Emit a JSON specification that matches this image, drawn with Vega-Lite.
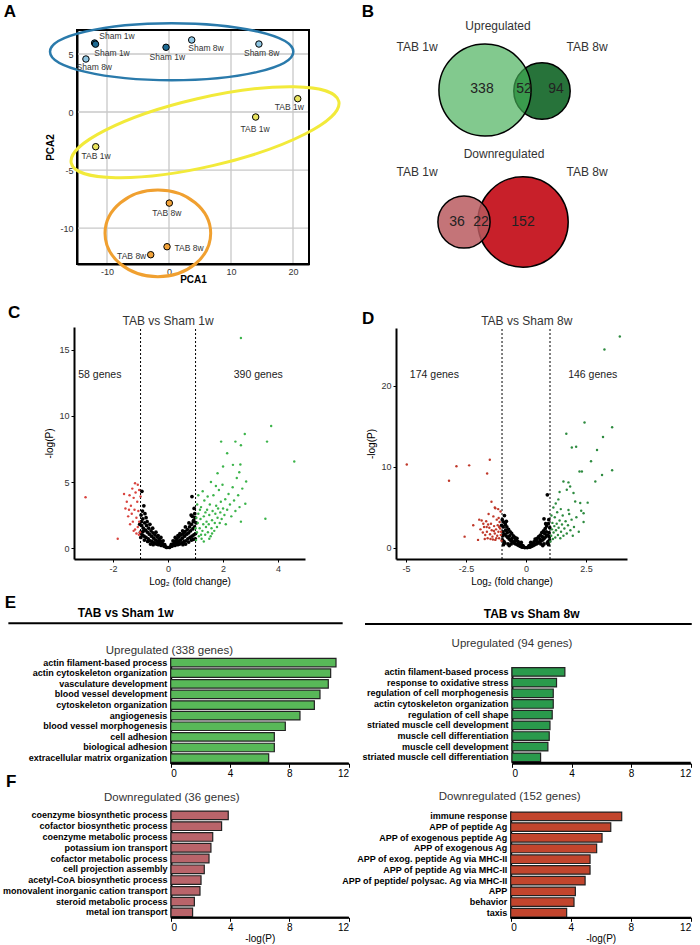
{
"$schema":"https://vega.github.io/schema/vega-lite/v6.json",
"width":700,"height":945,"autosize":{"type":"none"},"padding":0,"background":"white",
"config":{"view":{"stroke":null},"font":"Liberation Sans",
 "axis":{"labelFont":"Liberation Sans","titleFont":"Liberation Sans","grid":false,"domainColor":"black","tickColor":"black","labelColor":"#333","labelFontSize":9,"titleFontSize":10,"titleColor":"black","titleFontWeight":"normal","tickSize":3,"domainWidth":1.5}},
"datasets":{
"pca":[
{"g":"Sham 1w","x":-12.0,"y":5.95,"lx":-8.39,"ly":6.55},
{"g":"Sham 1w","x":-11.85,"y":5.85,"lx":-9.19,"ly":5.06},
{"g":"Sham 8w","x":-13.4,"y":4.57,"lx":-12.05,"ly":3.91},
{"g":"Sham 1w","x":-0.48,"y":5.58,"lx":-0.27,"ly":4.74},
{"g":"Sham 8w","x":3.66,"y":6.21,"lx":5.97,"ly":5.54},
{"g":"Sham 8w","x":14.5,"y":5.86,"lx":14.95,"ly":5.11},
{"g":"TAB 1w","x":20.76,"y":1.15,"lx":19.41,"ly":0.41},
{"g":"TAB 1w","x":13.98,"y":-0.43,"lx":13.87,"ly":-1.47},
{"g":"TAB 1w","x":-11.82,"y":-2.99,"lx":-11.77,"ly":-3.79},
{"g":"TAB 8w","x":0.05,"y":-7.85,"lx":-0.37,"ly":-8.73},
{"g":"TAB 8w","x":-0.32,"y":-11.61,"lx":3.23,"ly":-11.75},
{"g":"TAB 8w","x":-2.95,"y":-12.3,"lx":-6.02,"ly":-12.39}],
"ell":[{"e":"b","x":0.43,"y":5.2},{"e":"y","x":5.81,"y":-1.74},{"e":"o","x":-1.8,"y":-10.46},{"e":"f","x":3.87,"y":-3.015}],
"volC":[
{"x":-0.05,"y":0.05,"g":"n"},{"x":-0.1,"y":0.1,"g":"n"},{"x":-0.12,"y":0.25,"g":"n"},{"x":-0.15,"y":0.15,"g":"n"},{"x":-0.2,"y":0.3,"g":"n"},{"x":-0.22,"y":0.45,"g":"n"},{"x":-0.25,"y":0.2,"g":"n"},{"x":-0.28,"y":0.55,"g":"n"},{"x":-0.3,"y":0.35,"g":"n"},{"x":-0.33,"y":0.7,"g":"n"},
{"x":-0.35,"y":0.25,"g":"n"},{"x":-0.38,"y":0.5,"g":"n"},{"x":-0.4,"y":0.85,"g":"n"},{"x":-0.42,"y":0.3,"g":"n"},{"x":-0.45,"y":0.6,"g":"n"},{"x":-0.48,"y":1.0,"g":"n"},{"x":-0.5,"y":0.4,"g":"n"},{"x":-0.52,"y":0.75,"g":"n"},{"x":-0.55,"y":1.15,"g":"n"},{"x":-0.58,"y":0.5,"g":"n"},
{"x":-0.6,"y":0.9,"g":"n"},{"x":-0.62,"y":1.3,"g":"n"},{"x":-0.65,"y":0.55,"g":"n"},{"x":-0.68,"y":1.05,"g":"n"},{"x":-0.7,"y":1.5,"g":"n"},{"x":-0.72,"y":0.7,"g":"n"},{"x":-0.75,"y":1.2,"g":"n"},{"x":-0.78,"y":1.7,"g":"n"},{"x":-0.8,"y":0.8,"g":"n"},{"x":-0.82,"y":1.35,"g":"n"},
{"x":-0.85,"y":1.9,"g":"n"},{"x":-0.87,"y":0.9,"g":"n"},{"x":-0.9,"y":1.5,"g":"n"},{"x":-0.92,"y":2.2,"g":"n"},{"x":-0.94,"y":1.0,"g":"n"},{"x":-0.96,"y":1.7,"g":"n"},{"x":-0.98,"y":2.5,"g":"n"},{"x":-1.0,"y":1.2,"g":"n"},{"x":-0.97,"y":2.0,"g":"n"},{"x":-0.93,"y":2.8,"g":"n"},
{"x":-0.88,"y":3.2,"g":"n"},{"x":-0.95,"y":4.3,"g":"n"},{"x":-0.86,"y":0.6,"g":"n"},{"x":-0.74,"y":0.5,"g":"n"},{"x":-0.99,"y":0.8,"g":"n"},{"x":-0.91,"y":1.25,"g":"n"},{"x":-0.8,"y":2.3,"g":"n"},{"x":-0.66,"y":1.8,"g":"n"},{"x":-0.56,"y":1.5,"g":"n"},{"x":-0.44,"y":1.2,"g":"n"},
{"x":-0.18,"y":0.55,"g":"n"},{"x":-0.36,"y":0.95,"g":"n"},{"x":-0.64,"y":0.3,"g":"n"},{"x":-0.84,"y":2.6,"g":"n"},{"x":-1.03,"y":1.8,"g":"n"},{"x":-0.76,"y":2.0,"g":"n"},{"x":-0.54,"y":0.25,"g":"n"},{"x":-0.26,"y":0.8,"g":"n"},
{"x":0.05,"y":0.05,"g":"n"},{"x":0.1,"y":0.12,"g":"n"},{"x":0.12,"y":0.28,"g":"n"},{"x":0.15,"y":0.15,"g":"n"},{"x":0.2,"y":0.3,"g":"n"},{"x":0.22,"y":0.5,"g":"n"},{"x":0.25,"y":0.2,"g":"n"},{"x":0.28,"y":0.55,"g":"n"},{"x":0.3,"y":0.35,"g":"n"},{"x":0.33,"y":0.7,"g":"n"},
{"x":0.35,"y":0.25,"g":"n"},{"x":0.38,"y":0.5,"g":"n"},{"x":0.4,"y":0.85,"g":"n"},{"x":0.42,"y":0.3,"g":"n"},{"x":0.45,"y":0.6,"g":"n"},{"x":0.48,"y":1.0,"g":"n"},{"x":0.5,"y":0.4,"g":"n"},{"x":0.52,"y":0.75,"g":"n"},{"x":0.55,"y":1.1,"g":"n"},{"x":0.58,"y":0.5,"g":"n"},
{"x":0.6,"y":0.9,"g":"n"},{"x":0.62,"y":1.25,"g":"n"},{"x":0.65,"y":0.55,"g":"n"},{"x":0.68,"y":1.05,"g":"n"},{"x":0.7,"y":1.4,"g":"n"},{"x":0.72,"y":0.7,"g":"n"},{"x":0.75,"y":1.15,"g":"n"},{"x":0.78,"y":1.6,"g":"n"},{"x":0.8,"y":0.8,"g":"n"},{"x":0.82,"y":1.3,"g":"n"},
{"x":0.85,"y":1.8,"g":"n"},{"x":0.87,"y":0.9,"g":"n"},{"x":0.9,"y":1.45,"g":"n"},{"x":0.92,"y":2.0,"g":"n"},{"x":0.94,"y":1.0,"g":"n"},{"x":0.96,"y":1.6,"g":"n"},{"x":0.98,"y":2.3,"g":"n"},{"x":1.0,"y":1.1,"g":"n"},{"x":0.97,"y":2.6,"g":"n"},{"x":0.93,"y":2.1,"g":"n"},
{"x":0.88,"y":2.4,"g":"n"},{"x":0.87,"y":3.9,"g":"n"},{"x":0.95,"y":3.0,"g":"n"},{"x":0.85,"y":0.6,"g":"n"},{"x":0.75,"y":0.45,"g":"n"},{"x":0.99,"y":0.7,"g":"n"},{"x":0.63,"y":1.6,"g":"n"},{"x":0.53,"y":1.3,"g":"n"},{"x":0.43,"y":1.1,"g":"n"},{"x":0.91,"y":0.65,"g":"n"},
{"x":0.18,"y":0.55,"g":"n"},{"x":0.36,"y":0.95,"g":"n"},{"x":0.64,"y":0.3,"g":"n"},{"x":0.84,"y":2.5,"g":"n"},{"x":1.02,"y":1.9,"g":"n"},{"x":0.76,"y":1.9,"g":"n"},{"x":0.54,"y":0.25,"g":"n"},{"x":0.26,"y":0.8,"g":"n"},
{"x":-1.02,"y":1.2,"g":"d"},{"x":-1.05,"y":2.0,"g":"d"},{"x":-1.08,"y":2.8,"g":"d"},{"x":-1.1,"y":1.6,"g":"d"},{"x":-1.12,"y":3.5,"g":"d"},{"x":-1.15,"y":2.3,"g":"d"},{"x":-1.18,"y":4.2,"g":"d"},{"x":-1.2,"y":1.4,"g":"d"},{"x":-1.22,"y":2.9,"g":"d"},{"x":-1.25,"y":3.8,"g":"d"},
{"x":-1.28,"y":2.0,"g":"d"},{"x":-1.3,"y":4.5,"g":"d"},{"x":-1.32,"y":2.6,"g":"d"},{"x":-1.35,"y":3.2,"g":"d"},{"x":-1.38,"y":1.8,"g":"d"},{"x":-1.4,"y":4.0,"g":"d"},{"x":-1.45,"y":2.4,"g":"d"},{"x":-1.5,"y":3.5,"g":"d"},{"x":-1.55,"y":3.0,"g":"d"},{"x":-1.6,"y":4.1,"g":"d"},
{"x":-1.1,"y":4.8,"g":"d"},{"x":-1.05,"y":4.4,"g":"d"},{"x":-1.2,"y":4.9,"g":"d"},{"x":-1.42,"y":2.9,"g":"d"},{"x":-1.06,"y":1.0,"g":"d"},{"x":-1.15,"y":1.1,"g":"d"},{"x":-3.0,"y":3.85,"g":"d"},{"x":-1.83,"y":0.7,"g":"d"},{"x":-1.0,"y":3.9,"g":"d"},{"x":-1.25,"y":1.3,"g":"d"},
{"x":1.02,"y":0.6,"g":"u"},{"x":1.05,"y":1.2,"g":"u"},{"x":1.08,"y":1.9,"g":"u"},{"x":1.1,"y":2.6,"g":"u"},{"x":1.12,"y":0.9,"g":"u"},{"x":1.15,"y":1.5,"g":"u"},{"x":1.18,"y":2.2,"g":"u"},{"x":1.2,"y":3.1,"g":"u"},{"x":1.22,"y":0.7,"g":"u"},{"x":1.25,"y":1.3,"g":"u"},
{"x":1.28,"y":1.8,"g":"u"},{"x":1.3,"y":2.4,"g":"u"},{"x":1.32,"y":3.6,"g":"u"},{"x":1.35,"y":1.0,"g":"u"},{"x":1.38,"y":1.6,"g":"u"},{"x":1.4,"y":2.0,"g":"u"},{"x":1.42,"y":2.9,"g":"u"},{"x":1.45,"y":1.2,"g":"u"},{"x":1.48,"y":1.8,"g":"u"},{"x":1.5,"y":2.5,"g":"u"},
{"x":1.52,"y":3.3,"g":"u"},{"x":1.55,"y":0.9,"g":"u"},{"x":1.58,"y":1.5,"g":"u"},{"x":1.6,"y":2.1,"g":"u"},{"x":1.62,"y":2.8,"g":"u"},{"x":1.65,"y":4.0,"g":"u"},{"x":1.68,"y":1.3,"g":"u"},{"x":1.7,"y":1.9,"g":"u"},{"x":1.72,"y":2.6,"g":"u"},{"x":1.75,"y":3.2,"g":"u"},
{"x":1.78,"y":1.6,"g":"u"},{"x":1.8,"y":2.3,"g":"u"},{"x":1.82,"y":3.0,"g":"u"},{"x":1.85,"y":4.4,"g":"u"},{"x":1.88,"y":1.9,"g":"u"},{"x":1.9,"y":2.7,"g":"u"},{"x":1.92,"y":3.5,"g":"u"},{"x":1.95,"y":2.2,"g":"u"},{"x":1.98,"y":4.8,"g":"u"},{"x":2.0,"y":3.0,"g":"u"},
{"x":2.05,"y":2.5,"g":"u"},{"x":2.08,"y":3.7,"g":"u"},{"x":2.1,"y":1.8,"g":"u"},{"x":2.15,"y":2.9,"g":"u"},{"x":2.2,"y":4.1,"g":"u"},{"x":2.25,"y":3.3,"g":"u"},{"x":2.3,"y":2.4,"g":"u"},{"x":2.35,"y":4.6,"g":"u"},{"x":2.4,"y":3.6,"g":"u"},{"x":2.45,"y":2.8,"g":"u"},
{"x":2.5,"y":5.3,"g":"u"},{"x":2.55,"y":4.0,"g":"u"},{"x":2.6,"y":3.1,"g":"u"},{"x":2.7,"y":4.5,"g":"u"},{"x":1.1,"y":4.0,"g":"u"},{"x":1.06,"y":3.3,"g":"u"},{"x":1.3,"y":0.5,"g":"u"},{"x":1.5,"y":0.7,"g":"u"},{"x":1.16,"y":2.9,"g":"u"},{"x":1.36,"y":2.7,"g":"u"},
{"x":1.44,"y":3.9,"g":"u"},{"x":1.26,"y":4.3,"g":"u"},{"x":1.0,"y":1.5,"g":"u"},{"x":1.03,"y":2.3,"g":"u"},{"x":1.2,"y":1.0,"g":"u"},{"x":1.6,"y":1.1,"g":"u"},{"x":1.74,"y":4.7,"g":"u"},{"x":1.56,"y":5.0,"g":"u"},{"x":2.65,"y":2.0,"g":"u"},
{"x":2.65,"y":15.9,"g":"u"},{"x":3.75,"y":9.24,"g":"u"},{"x":3.6,"y":8.06,"g":"u"},{"x":2.79,"y":8.64,"g":"u"},{"x":2.45,"y":8.06,"g":"u"},{"x":2.65,"y":7.78,"g":"u"},{"x":1.93,"y":8.06,"g":"u"},{"x":2.15,"y":7.18,"g":"u"},{"x":4.59,"y":6.55,"g":"u"},{"x":3.54,"y":2.22,"g":"u"},
{"x":2.81,"y":3.35,"g":"u"},{"x":2.63,"y":6.32,"g":"u"},{"x":2.36,"y":6.3,"g":"u"},{"x":2.59,"y":5.74,"g":"u"},{"x":2.84,"y":5.04,"g":"u"},{"x":2.0,"y":6.17,"g":"u"},{"x":1.8,"y":5.67,"g":"u"}],
"volD":[
{"x":-0.05,"y":0.05,"g":"n"},{"x":-0.1,"y":0.15,"g":"n"},{"x":-0.13,"y":0.3,"g":"n"},{"x":-0.16,"y":0.1,"g":"n"},{"x":-0.2,"y":0.4,"g":"n"},{"x":-0.23,"y":0.2,"g":"n"},{"x":-0.26,"y":0.6,"g":"n"},{"x":-0.3,"y":0.3,"g":"n"},{"x":-0.33,"y":0.8,"g":"n"},{"x":-0.36,"y":0.4,"g":"n"},
{"x":-0.4,"y":1.0,"g":"n"},{"x":-0.43,"y":0.5,"g":"n"},{"x":-0.46,"y":1.3,"g":"n"},{"x":-0.5,"y":0.6,"g":"n"},{"x":-0.53,"y":1.5,"g":"n"},{"x":-0.56,"y":0.8,"g":"n"},{"x":-0.6,"y":1.8,"g":"n"},{"x":-0.63,"y":0.9,"g":"n"},{"x":-0.66,"y":2.0,"g":"n"},{"x":-0.7,"y":1.1,"g":"n"},
{"x":-0.73,"y":2.3,"g":"n"},{"x":-0.76,"y":1.3,"g":"n"},{"x":-0.8,"y":2.6,"g":"n"},{"x":-0.83,"y":1.5,"g":"n"},{"x":-0.86,"y":2.9,"g":"n"},{"x":-0.9,"y":1.7,"g":"n"},{"x":-0.93,"y":3.2,"g":"n"},{"x":-0.96,"y":2.0,"g":"n"},{"x":-0.99,"y":3.5,"g":"n"},{"x":-0.98,"y":1.0,"g":"n"},
{"x":-0.88,"y":0.6,"g":"n"},{"x":-0.75,"y":0.5,"g":"n"},{"x":-0.95,"y":2.6,"g":"n"},{"x":-0.68,"y":1.5,"g":"n"},{"x":-0.58,"y":1.2,"g":"n"},{"x":-0.85,"y":2.2,"g":"n"},{"x":-0.92,"y":0.8,"g":"n"},{"x":-0.78,"y":1.9,"g":"n"},{"x":-0.45,"y":0.9,"g":"n"},{"x":-0.62,"y":0.5,"g":"n"},
{"x":-0.97,"y":1.5,"g":"n"},{"x":-0.82,"y":3.3,"g":"n"},{"x":-0.9,"y":4.0,"g":"n"},{"x":-0.2,"y":0.7,"g":"n"},{"x":-0.38,"y":1.2,"g":"n"},{"x":-0.7,"y":0.3,"g":"n"},{"x":-1.02,"y":2.8,"g":"n"},{"x":-0.94,"y":0.4,"g":"n"},
{"x":0.05,"y":0.05,"g":"n"},{"x":0.1,"y":0.15,"g":"n"},{"x":0.13,"y":0.3,"g":"n"},{"x":0.16,"y":0.1,"g":"n"},{"x":0.2,"y":0.4,"g":"n"},{"x":0.23,"y":0.2,"g":"n"},{"x":0.26,"y":0.55,"g":"n"},{"x":0.3,"y":0.3,"g":"n"},{"x":0.33,"y":0.75,"g":"n"},{"x":0.36,"y":0.4,"g":"n"},
{"x":0.4,"y":0.95,"g":"n"},{"x":0.43,"y":0.5,"g":"n"},{"x":0.46,"y":1.2,"g":"n"},{"x":0.5,"y":0.6,"g":"n"},{"x":0.53,"y":1.4,"g":"n"},{"x":0.56,"y":0.75,"g":"n"},{"x":0.6,"y":1.6,"g":"n"},{"x":0.63,"y":0.9,"g":"n"},{"x":0.66,"y":1.9,"g":"n"},{"x":0.7,"y":1.0,"g":"n"},
{"x":0.73,"y":2.1,"g":"n"},{"x":0.76,"y":1.2,"g":"n"},{"x":0.8,"y":2.4,"g":"n"},{"x":0.83,"y":1.4,"g":"n"},{"x":0.86,"y":2.7,"g":"n"},{"x":0.9,"y":1.6,"g":"n"},{"x":0.93,"y":3.0,"g":"n"},{"x":0.96,"y":1.9,"g":"n"},{"x":0.99,"y":2.5,"g":"n"},{"x":0.98,"y":1.0,"g":"n"},
{"x":0.88,"y":0.6,"g":"n"},{"x":0.75,"y":0.5,"g":"n"},{"x":0.95,"y":3.5,"g":"n"},{"x":0.68,"y":1.4,"g":"n"},{"x":0.58,"y":1.1,"g":"n"},{"x":0.85,"y":2.0,"g":"n"},{"x":0.92,"y":0.8,"g":"n"},{"x":0.78,"y":1.8,"g":"n"},{"x":0.45,"y":0.85,"g":"n"},{"x":0.62,"y":0.5,"g":"n"},
{"x":0.97,"y":1.4,"g":"n"},{"x":0.75,"y":3.6,"g":"n"},{"x":0.89,"y":6.57,"g":"n"},{"x":0.82,"y":3.0,"g":"n"},{"x":0.2,"y":0.7,"g":"n"},{"x":0.38,"y":1.1,"g":"n"},{"x":0.7,"y":0.3,"g":"n"},{"x":0.94,"y":0.4,"g":"n"},
{"x":-1.02,"y":0.9,"g":"d"},{"x":-1.05,"y":1.6,"g":"d"},{"x":-1.08,"y":2.4,"g":"d"},{"x":-1.1,"y":3.2,"g":"d"},{"x":-1.12,"y":1.2,"g":"d"},{"x":-1.15,"y":2.0,"g":"d"},{"x":-1.18,"y":2.8,"g":"d"},{"x":-1.2,"y":1.5,"g":"d"},{"x":-1.22,"y":3.5,"g":"d"},{"x":-1.25,"y":2.3,"g":"d"},
{"x":-1.28,"y":1.0,"g":"d"},{"x":-1.3,"y":1.8,"g":"d"},{"x":-1.33,"y":2.7,"g":"d"},{"x":-1.36,"y":3.9,"g":"d"},{"x":-1.4,"y":1.4,"g":"d"},{"x":-1.43,"y":2.2,"g":"d"},{"x":-1.46,"y":3.0,"g":"d"},{"x":-1.5,"y":1.7,"g":"d"},{"x":-1.53,"y":2.5,"g":"d"},{"x":-1.56,"y":4.2,"g":"d"},
{"x":-1.6,"y":1.2,"g":"d"},{"x":-1.63,"y":2.0,"g":"d"},{"x":-1.66,"y":3.3,"g":"d"},{"x":-1.7,"y":1.6,"g":"d"},{"x":-1.75,"y":2.6,"g":"d"},{"x":-1.8,"y":1.9,"g":"d"},{"x":-1.85,"y":3.4,"g":"d"},{"x":-1.9,"y":2.3,"g":"d"},{"x":-1.95,"y":3.5,"g":"d"},{"x":-2.0,"y":1.0,"g":"d"},
{"x":-1.06,"y":4.5,"g":"d"},{"x":-1.16,"y":4.8,"g":"d"},{"x":-1.3,"y":5.0,"g":"d"},{"x":-1.44,"y":5.7,"g":"d"},{"x":-1.28,"y":4.9,"g":"d"},{"x":-2.56,"y":1.4,"g":"d"},{"x":-2.2,"y":2.8,"g":"d"},{"x":-1.38,"y":1.05,"g":"d"},{"x":-1.12,"y":2.6,"g":"d"},{"x":-1.48,"y":1.1,"g":"d"},
{"x":-1.72,"y":1.1,"g":"d"},{"x":-1.58,"y":2.9,"g":"d"},{"x":-1.04,"y":2.0,"g":"d"},{"x":-1.14,"y":3.7,"g":"d"},{"x":-1.24,"y":1.2,"g":"d"},{"x":-1.34,"y":2.1,"g":"d"},{"x":-1.64,"y":2.6,"g":"d"},{"x":-1.78,"y":3.0,"g":"d"},
{"x":-4.97,"y":10.3,"g":"d"},{"x":-2.9,"y":10.1,"g":"d"},{"x":-2.37,"y":10.2,"g":"d"},{"x":-3.21,"y":8.3,"g":"d"},{"x":-1.51,"y":10.9,"g":"d"},{"x":-1.62,"y":9.2,"g":"d"},
{"x":1.02,"y":0.8,"g":"u"},{"x":1.05,"y":1.5,"g":"u"},{"x":1.08,"y":2.3,"g":"u"},{"x":1.1,"y":3.1,"g":"u"},{"x":1.12,"y":1.1,"g":"u"},{"x":1.15,"y":1.9,"g":"u"},{"x":1.18,"y":2.7,"g":"u"},{"x":1.2,"y":3.8,"g":"u"},{"x":1.22,"y":1.3,"g":"u"},{"x":1.25,"y":2.2,"g":"u"},
{"x":1.28,"y":3.0,"g":"u"},{"x":1.3,"y":4.4,"g":"u"},{"x":1.33,"y":1.6,"g":"u"},{"x":1.36,"y":2.5,"g":"u"},{"x":1.4,"y":3.4,"g":"u"},{"x":1.43,"y":1.2,"g":"u"},{"x":1.46,"y":2.0,"g":"u"},{"x":1.5,"y":2.9,"g":"u"},{"x":1.53,"y":4.0,"g":"u"},{"x":1.56,"y":1.5,"g":"u"},
{"x":1.6,"y":2.4,"g":"u"},{"x":1.65,"y":3.3,"g":"u"},{"x":1.7,"y":1.8,"g":"u"},{"x":1.75,"y":2.8,"g":"u"},{"x":1.8,"y":4.2,"g":"u"},{"x":1.85,"y":2.2,"g":"u"},{"x":1.9,"y":3.5,"g":"u"},{"x":1.95,"y":1.5,"g":"u"},{"x":2.0,"y":2.6,"g":"u"},{"x":2.1,"y":3.8,"g":"u"},
{"x":2.2,"y":2.0,"g":"u"},{"x":1.06,"y":4.0,"g":"u"},{"x":1.14,"y":5.0,"g":"u"},{"x":1.24,"y":5.5,"g":"u"},{"x":1.35,"y":6.0,"g":"u"},{"x":1.45,"y":4.8,"g":"u"},{"x":2.3,"y":4.6,"g":"u"},{"x":2.4,"y":3.2,"g":"u"},{"x":2.05,"y":5.75,"g":"u"},{"x":2.26,"y":5.55,"g":"u"},
{"x":2.57,"y":5.6,"g":"u"},{"x":2.4,"y":4.3,"g":"u"},{"x":1.77,"y":4.7,"g":"u"},
{"x":3.91,"y":26.1,"g":"u"},{"x":3.27,"y":24.5,"g":"u"},{"x":2.44,"y":15.5,"g":"u"},{"x":3.59,"y":14.9,"g":"u"},{"x":3.21,"y":13.7,"g":"u"},{"x":2.96,"y":12.1,"g":"u"},{"x":2.09,"y":12.5,"g":"u"},{"x":1.68,"y":14.1,"g":"u"},{"x":1.91,"y":12.4,"g":"u"},{"x":2.71,"y":10.7,"g":"u"},
{"x":2.23,"y":9.45,"g":"u"},{"x":2.33,"y":9.45,"g":"u"},{"x":3.17,"y":9.0,"g":"u"},{"x":3.59,"y":9.6,"g":"u"},{"x":2.89,"y":8.2,"g":"u"},{"x":1.77,"y":8.1,"g":"u"},{"x":1.84,"y":7.6,"g":"u"},{"x":1.56,"y":8.2,"g":"u"},{"x":1.4,"y":6.9,"g":"u"},{"x":1.7,"y":7.2,"g":"u"},{"x":1.98,"y":6.8,"g":"u"}],
"eL":[
{"t":"actin filament-based process","v":11.15},{"t":"actin cytoskeleton organization","v":10.79},{"t":"vasculature development","v":10.63},{"t":"blood vessel development","v":10.07},{"t":"cytoskeleton organization","v":9.69},{"t":"angiogenesis","v":8.72},{"t":"blood vessel morphogenesis","v":7.73},{"t":"cell adhesion","v":6.99},{"t":"biological adhesion","v":6.99},{"t":"extracellular matrix organization","v":6.61}],
"eR":[
{"t":"actin filament-based process","v":3.55},{"t":"response to oxidative stress","v":2.99},{"t":"regulation of cell morphogenesis","v":2.77},{"t":"actin cytoskeleton organization","v":2.77},{"t":"regulation of cell shape","v":2.7},{"t":"striated muscle cell development","v":2.55},{"t":"muscle cell differentiation","v":2.5},{"t":"muscle cell development","v":2.41},{"t":"striated muscle cell differentiation","v":1.92}],
"fL":[
{"t":"coenzyme biosynthetic process","v":3.87},{"t":"cofactor biosynthetic process","v":3.42},{"t":"coenzyme metabolic process","v":2.82},{"t":"potassium ion transport","v":2.7},{"t":"cofactor metabolic process","v":2.57},{"t":"cell projection assembly","v":2.25},{"t":"acetyl-CoA biosynthetic process","v":2.03},{"t":"monovalent inorganic cation transport","v":1.96},{"t":"steroid metabolic process","v":1.58},{"t":"metal ion transport","v":1.46}],
"fR":[
{"t":"immune response","v":7.4},{"t":"APP of peptide Ag","v":6.67},{"t":"APP of exogenous peptide Ag","v":6.09},{"t":"APP of exogenous Ag","v":5.73},{"t":"APP of exog. peptide Ag via MHC-II","v":5.29},{"t":"APP of peptide Ag via MHC-II","v":5.29},{"t":"APP of peptide/ polysac. Ag via MHC-II","v":4.96},{"t":"APP","v":4.31},{"t":"behavior","v":4.22},{"t":"taxis","v":3.73}]
},
"layer":[
{"layer":[
 {"data":{"values":[{"v":-10},{"v":0},{"v":10},{"v":20}]},"mark":{"type":"rule","color":"#c8c8c8","strokeWidth":1.3},
  "encoding":{
   "x":{"field":"v","type":"quantitative","scale":{"domain":[-14.84,22.58],"range":[77,309],"nice":false,"zero":false},
     "axis":{"orient":"bottom","offset":-681,"values":[-10,0,10,20],"ticks":false,"domain":true,"domainWidth":2,"labelPadding":3,"title":"PCA1","titleFontWeight":"bold","titlePadding":-2,"labelExpr":"''+datum.value"}},
   "y":{"datum":-13.1,"type":"quantitative","scale":{"domain":[-13.1,7.07],"range":[264,30],"nice":false,"zero":false},
     "axis":{"orient":"left","offset":-77,"values":[-10,-5,0,5],"ticks":false,"domain":true,"domainWidth":2,"labelPadding":4,"title":"PCA2","titleFontWeight":"bold","titlePadding":4,"labelExpr":"''+datum.value"}},
   "y2":{"datum":7.07}}},
 {"data":{"values":[{"v":-10},{"v":-5},{"v":0},{"v":5}]},"mark":{"type":"rule","color":"#c8c8c8","strokeWidth":1.3},
  "encoding":{"y":{"field":"v","type":"quantitative","axis":null},"x":{"datum":-14.84,"type":"quantitative","axis":null},"x2":{"datum":22.58}}},
 {"data":{"name":"ell"},"transform":[{"filter":"datum.e==='f'"}],
  "mark":{"type":"point","shape":"M-1,-1.0086L1,-1.0086L1,1.0086L-1,1.0086Z","size":53824,"filled":false,"color":"#000000","strokeWidth":2,"opacity":1},
  "encoding":{"x":{"field":"x","type":"quantitative","axis":null},"y":{"field":"y","type":"quantitative","axis":null}}},
 {"data":{"name":"ell"},"transform":[{"filter":"datum.e==='b'"}],
  "mark":{"type":"point","shape":"M-1,0C-1,-0.1296,-0.5523,-0.2346,0,-0.2346C0.5523,-0.2346,1,-0.1296,1,0C1,0.1296,0.5523,0.2346,0,0.2346C-0.5523,0.2346,-1,0.1296,-1,0Z","size":59200,"filled":false,"color":"#2a7aab","strokeWidth":2.5,"opacity":1},
  "encoding":{"x":{"field":"x","type":"quantitative","axis":null},"y":{"field":"y","type":"quantitative","axis":null}}},
 {"data":{"name":"ell"},"transform":[{"filter":"datum.e==='y'"}],
  "mark":{"type":"point","shape":"M-1,0C-1,-0.1381,-0.5523,-0.25,0,-0.25C0.5523,-0.25,1,-0.1381,1,0C1,0.1381,0.5523,0.25,0,0.25C-0.5523,0.25,-1,0.1381,-1,0Z","size":75400,"angle":347,"filled":false,"color":"#f2ea3a","strokeWidth":3,"opacity":1},
  "encoding":{"x":{"field":"x","type":"quantitative","axis":null},"y":{"field":"y","type":"quantitative","axis":null}}},
 {"data":{"name":"ell"},"transform":[{"filter":"datum.e==='o'"}],
  "mark":{"type":"point","shape":"M-1,0C-1,-0.4529,-0.5523,-0.82,0,-0.82C0.5523,-0.82,1,-0.4529,1,0C1,0.4529,0.5523,0.82,0,0.82C-0.5523,0.82,-1,0.4529,-1,0Z","size":11170,"filled":false,"color":"#f0a030","strokeWidth":3,"opacity":1},
  "encoding":{"x":{"field":"x","type":"quantitative","axis":null},"y":{"field":"y","type":"quantitative","axis":null}}},
 {"data":{"name":"pca"},"mark":{"type":"point","filled":true,"size":42,"stroke":"black","strokeWidth":1,"opacity":1},
  "encoding":{"x":{"field":"x","type":"quantitative","axis":null},"y":{"field":"y","type":"quantitative","axis":null},
   "fill":{"field":"g","type":"nominal","scale":{"domain":["Sham 1w","Sham 8w","TAB 1w","TAB 8w"],"range":["#1d6a93","#8fc6e3","#e9e35e","#f2a33a"]},"legend":null}}},
 {"data":{"name":"pca"},"mark":{"type":"text","fontSize":8.5,"color":"#333"},
  "encoding":{"x":{"field":"lx","type":"quantitative","axis":null},"y":{"field":"ly","type":"quantitative","axis":null},"text":{"field":"g"}}},
 {"data":{"values":[{"t":"A","x":-25.65,"y":8.62}]},"mark":{"type":"text","fontSize":17,"fontWeight":"bold","color":"black"},
  "encoding":{"x":{"field":"x","type":"quantitative","axis":null},"y":{"field":"y","type":"quantitative","axis":null},"text":{"field":"t"}}}
],"resolve":{"axis":{"x":"independent","y":"independent"}}},
{"layer":[
 {"data":{"values":[{"s":"TAB 8w","n":146,"x":14.2,"y":5.9}]},"mark":{"type":"circle","fill":"#27733a","fillOpacity":1,"stroke":"black","strokeWidth":1.5,"opacity":1},
  "encoding":{"x":{"field":"x","type":"quantitative","scale":{"domain":[0,24],"range":[400,640],"nice":false,"zero":false},"axis":null},
   "y":{"field":"y","type":"quantitative","scale":{"domain":[0,13],"range":[150,20],"nice":false,"zero":false},"axis":null},
   "size":{"field":"n","type":"quantitative","scale":{"domain":[0,390],"range":[0,8495]},"legend":null}}},
 {"data":{"values":[{"s":"TAB 1w","n":390,"x":8.5,"y":6.0}]},"mark":{"type":"circle","fill":"#45af57","fillOpacity":0.67,"stroke":"black","strokeWidth":1.5,"opacity":1},
  "encoding":{"x":{"field":"x","type":"quantitative","axis":null},"y":{"field":"y","type":"quantitative","axis":null},
   "size":{"field":"n","type":"quantitative","legend":null}}},
 {"data":{"values":[{"t":"Upregulated","x":9.8,"y":12.4},{"t":"TAB 1w","x":1.7,"y":10.3},{"t":"TAB 8w","x":18.7,"y":10.3}]},"mark":{"type":"text","fontSize":12,"color":"#333"},
  "encoding":{"x":{"field":"x","type":"quantitative","axis":null},"y":{"field":"y","type":"quantitative","axis":null},"text":{"field":"t"}}},
 {"data":{"values":[{"t":"338","x":8.2,"y":6.1},{"t":"52","x":12.4,"y":6.1},{"t":"94","x":15.6,"y":6.1}]},"mark":{"type":"text","fontSize":14,"color":"#222"},
  "encoding":{"x":{"field":"x","type":"quantitative","axis":null},"y":{"field":"y","type":"quantitative","axis":null},"text":{"field":"t"}}},
 {"data":{"values":[{"t":"B","x":-3.2,"y":13.8}]},"mark":{"type":"text","fontSize":17,"fontWeight":"bold","color":"black"},
  "encoding":{"x":{"field":"x","type":"quantitative","axis":null},"y":{"field":"y","type":"quantitative","axis":null},"text":{"field":"t"}}}
]},
{"layer":[
 {"data":{"values":[{"s":"TAB 8w","n":174,"x":12.3,"y":6.8}]},"mark":{"type":"circle","fill":"#c8202a","fillOpacity":1,"stroke":"black","strokeWidth":1.5,"opacity":1},
  "encoding":{"x":{"field":"x","type":"quantitative","scale":{"domain":[0,24],"range":[400,640],"nice":false,"zero":false},"axis":null},
   "y":{"field":"y","type":"quantitative","scale":{"domain":[0,14],"range":[290,150],"nice":false,"zero":false},"axis":null},
   "size":{"field":"n","type":"quantitative","scale":{"domain":[0,174],"range":[0,8171]},"legend":null}}},
 {"data":{"values":[{"s":"TAB 1w","n":58,"x":6.4,"y":6.8}]},"mark":{"type":"circle","fill":"#b9595e","fillOpacity":0.84,"stroke":"black","strokeWidth":1.5,"opacity":1},
  "encoding":{"x":{"field":"x","type":"quantitative","axis":null},"y":{"field":"y","type":"quantitative","axis":null},
   "size":{"field":"n","type":"quantitative","legend":null}}},
 {"data":{"values":[{"t":"Downregulated","x":10.4,"y":13.6},{"t":"TAB 1w","x":1.7,"y":11.8},{"t":"TAB 8w","x":18.7,"y":11.8}]},"mark":{"type":"text","fontSize":12,"color":"#333"},
  "encoding":{"x":{"field":"x","type":"quantitative","axis":null},"y":{"field":"y","type":"quantitative","axis":null},"text":{"field":"t"}}},
 {"data":{"values":[{"t":"36","x":5.7,"y":6.8},{"t":"22","x":8.1,"y":6.8},{"t":"152","x":12.3,"y":6.8}]},"mark":{"type":"text","fontSize":14,"color":"#222"},
  "encoding":{"x":{"field":"x","type":"quantitative","axis":null},"y":{"field":"y","type":"quantitative","axis":null},"text":{"field":"t"}}}
]},
{"layer":[
 {"data":{"values":[{"v":-1},{"v":1}]},"mark":{"type":"rule","strokeDash":[2,2],"color":"black","strokeWidth":1},
  "encoding":{"x":{"field":"v","type":"quantitative","scale":{"domain":[-3.42,4.98],"range":[74,305],"nice":false,"zero":false},
     "axis":{"orient":"bottom","offset":-386,"values":[-2,0,2,4],"domainWidth":2,"title":"Log₂ (fold change)","titlePadding":3,"labelExpr":"''+datum.value"}},
   "y":{"datum":-0.83,"type":"quantitative","scale":{"domain":[-0.83,16.74],"range":[559,327],"nice":false,"zero":false},
     "axis":{"orient":"left","offset":-74,"values":[0,5,10,15],"domainWidth":2,"title":"-log(P)","titlePadding":4,"labelExpr":"''+datum.value"}},
   "y2":{"datum":16.74}}},
 {"data":{"name":"volC"},"transform":[{"filter":"datum.g==='n'"}],"mark":{"type":"circle","size":14,"color":"black","opacity":1},
  "encoding":{"x":{"field":"x","type":"quantitative","axis":null},"y":{"field":"y","type":"quantitative","axis":null}}},
 {"data":{"name":"volC"},"transform":[{"filter":"datum.g!=='n'"}],"mark":{"type":"circle","size":6,"opacity":1},
  "encoding":{"x":{"field":"x","type":"quantitative","axis":null},"y":{"field":"y","type":"quantitative","axis":null},
   "color":{"field":"g","type":"nominal","scale":{"domain":["u","d"],"range":["#3cb44b","#d9443f"]},"legend":null}}},
 {"data":{"values":[{"t":"TAB vs Sham 1w","x":0,"y":17.2}]},"mark":{"type":"text","fontSize":12,"color":"#333"},
  "encoding":{"x":{"field":"x","type":"quantitative","axis":null},"y":{"field":"y","type":"quantitative","axis":null},"text":{"field":"t"}}},
 {"data":{"values":[{"t":"58 genes","x":-2.48,"y":13.1},{"t":"390 genes","x":3.28,"y":13.1}]},"mark":{"type":"text","fontSize":10.5,"color":"#222"},
  "encoding":{"x":{"field":"x","type":"quantitative","axis":null},"y":{"field":"y","type":"quantitative","axis":null},"text":{"field":"t"}}},
 {"data":{"values":[{"t":"C","x":-5.6,"y":17.8}]},"mark":{"type":"text","fontSize":17,"fontWeight":"bold","color":"black"},
  "encoding":{"x":{"field":"x","type":"quantitative","axis":null},"y":{"field":"y","type":"quantitative","axis":null},"text":{"field":"t"}}}
],"resolve":{"axis":{"x":"independent","y":"independent"}}},
{"layer":[
 {"data":{"values":[{"v":-1},{"v":1}]},"mark":{"type":"rule","strokeDash":[2,2],"color":"black","strokeWidth":1},
  "encoding":{"x":{"field":"v","type":"quantitative","scale":{"domain":[-5.42,4.21],"range":[396,627],"nice":false,"zero":false},
     "axis":{"orient":"bottom","offset":-386,"values":[-5,-2.5,0,2.5],"domainWidth":2,"title":"Log₂ (fold change)","titlePadding":3,"labelExpr":"''+datum.value"}},
   "y":{"datum":-1.36,"type":"quantitative","scale":{"domain":[-1.36,27.16],"range":[559,328],"nice":false,"zero":false},
     "axis":{"orient":"left","offset":-396,"values":[0,10,20],"domainWidth":2,"title":"-log(P)","titlePadding":4,"labelExpr":"''+datum.value"}},
   "y2":{"datum":27.16}}},
 {"data":{"name":"volD"},"transform":[{"filter":"datum.g==='n'"}],"mark":{"type":"circle","size":14,"color":"black","opacity":1},
  "encoding":{"x":{"field":"x","type":"quantitative","axis":null},"y":{"field":"y","type":"quantitative","axis":null}}},
 {"data":{"name":"volD"},"transform":[{"filter":"datum.g!=='n'"}],"mark":{"type":"circle","size":6,"opacity":1},
  "encoding":{"x":{"field":"x","type":"quantitative","axis":null},"y":{"field":"y","type":"quantitative","axis":null},
   "color":{"field":"g","type":"nominal","scale":{"domain":["u","d"],"range":["#2e8b40","#c0392b"]},"legend":null}}},
 {"data":{"values":[{"t":"TAB vs Sham 8w","x":0.03,"y":28.0}]},"mark":{"type":"text","fontSize":12,"color":"#333"},
  "encoding":{"x":{"field":"x","type":"quantitative","axis":null},"y":{"field":"y","type":"quantitative","axis":null},"text":{"field":"t"}}},
 {"data":{"values":[{"t":"174 genes","x":-3.82,"y":21.36},{"t":"146 genes","x":2.78,"y":21.36}]},"mark":{"type":"text","fontSize":10.5,"color":"#222"},
  "encoding":{"x":{"field":"x","type":"quantitative","axis":null},"y":{"field":"y","type":"quantitative","axis":null},"text":{"field":"t"}}},
 {"data":{"values":[{"t":"D","x":-6.58,"y":28.27}]},"mark":{"type":"text","fontSize":17,"fontWeight":"bold","color":"black"},
  "encoding":{"x":{"field":"x","type":"quantitative","axis":null},"y":{"field":"y","type":"quantitative","axis":null},"text":{"field":"t"}}}
],"resolve":{"axis":{"x":"independent","y":"independent"}}},
{"layer":[
 {"data":{"name":"eL"},"mark":{"type":"bar","fill":"#58b858","stroke":"#222","strokeWidth":1.2},
  "encoding":{"y":{"field":"t","type":"nominal","sort":null,"scale":{"range":[657.3,763.4],"paddingInner":0.2,"paddingOuter":0.1},
     "axis":{"orient":"left","offset":-170.7,"title":null,"ticks":false,"labelFontSize":9,"labelFontWeight":"bold","labelColor":"black","labelPadding":4,"labelLimit":400,"domainWidth":2}},
   "x":{"field":"v","type":"quantitative","scale":{"domain":[0,12],"range":[170.7,348.6],"nice":false,"zero":false},
     "axis":{"orient":"bottom","offset":-181.7,"values":[0,4,8,12],"title":null,"tickSize":4,"labelFontSize":10,"labelColor":"black","domainWidth":2,"labelPadding":1}}}},
 {"layer":[
  {"data":{"values":[{"t":"E","x":-10.81,"y":-5.09}]},"mark":{"type":"text","fontSize":17,"fontWeight":"bold","color":"black"},
   "encoding":{"x":{"field":"x","type":"quantitative","axis":null},"y":{"field":"y","type":"quantitative","scale":{"domain":[0,10],"range":[657.3,763.4],"nice":false,"zero":false},"axis":null},"text":{"field":"t"}}},
  {"data":{"values":[{"t":"TAB vs Sham 1w","x":-3.04,"y":-4.15}]},"mark":{"type":"text","fontSize":12,"fontWeight":"bold","color":"black"},
   "encoding":{"x":{"field":"x","type":"quantitative","axis":null},"y":{"field":"y","type":"quantitative","axis":null},"text":{"field":"t"}}},
  {"data":{"values":[{"t":"Upregulated (338 genes)","x":-0.09,"y":-0.62}]},"mark":{"type":"text","fontSize":11.5,"color":"#333"},
   "encoding":{"x":{"field":"x","type":"quantitative","axis":null},"y":{"field":"y","type":"quantitative","axis":null},"text":{"field":"t"}}},
  {"data":{"values":[{"x":-10.95,"x2":11.6,"y":-3.21},{"x":0.0,"x2":12.0,"y":9.99}]},"mark":{"type":"rule","color":"black","strokeWidth":1.8},
   "encoding":{"x":{"field":"x","type":"quantitative","axis":null},"x2":{"field":"x2"},"y":{"field":"y","type":"quantitative","axis":null}}}
 ]}
],"resolve":{"scale":{"y":"independent"},"axis":{"x":"independent","y":"independent"}}},
{"layer":[
 {"data":{"name":"eR"},"mark":{"type":"bar","fill":"#2a9a4c","stroke":"#222","strokeWidth":1.2},
  "encoding":{"y":{"field":"t","type":"nominal","sort":null,"scale":{"range":[666.6,762.7],"paddingInner":0.2,"paddingOuter":0.1},
     "axis":{"orient":"left","offset":-512,"title":null,"ticks":false,"labelFontSize":9,"labelFontWeight":"bold","labelColor":"black","labelPadding":4,"labelLimit":400,"domainWidth":2}},
   "x":{"field":"v","type":"quantitative","scale":{"domain":[0,12],"range":[512,690.7],"nice":false,"zero":false},
     "axis":{"orient":"bottom","offset":-181.7,"values":[0,4,8,12],"title":null,"tickSize":4,"labelFontSize":10,"labelColor":"black","domainWidth":2,"labelPadding":1}}}},
 {"layer":[
  {"data":{"values":[{"t":"TAB vs Sham 8w","x":1.32,"y":-4.92}]},"mark":{"type":"text","fontSize":12,"fontWeight":"bold","color":"black"},
   "encoding":{"x":{"field":"x","type":"quantitative","axis":null},"y":{"field":"y","type":"quantitative","scale":{"domain":[0,9],"range":[666.6,762.7],"nice":false,"zero":false},"axis":null},"text":{"field":"t"}}},
  {"data":{"values":[{"t":"Upregulated (94 genes)","x":0.0,"y":-2.13}]},"mark":{"type":"text","fontSize":11.5,"color":"#333"},
   "encoding":{"x":{"field":"x","type":"quantitative","axis":null},"y":{"field":"y","type":"quantitative","axis":null},"text":{"field":"t"}}},
  {"data":{"values":[{"x":-9.87,"x2":12.07,"y":-3.99},{"x":0.0,"x2":12.0,"y":8.99}]},"mark":{"type":"rule","color":"black","strokeWidth":1.8},
   "encoding":{"x":{"field":"x","type":"quantitative","axis":null},"x2":{"field":"x2"},"y":{"field":"y","type":"quantitative","axis":null}}}
 ]}
],"resolve":{"scale":{"y":"independent"},"axis":{"x":"independent","y":"independent"}}},
{"layer":[
 {"data":{"name":"fL"},"mark":{"type":"bar","fill":"#b9646a","stroke":"#222","strokeWidth":1.2},
  "encoding":{"y":{"field":"t","type":"nominal","sort":null,"scale":{"range":[810,917.8],"paddingInner":0.2,"paddingOuter":0.1},
     "axis":{"orient":"left","offset":-171,"title":null,"ticks":false,"labelFontSize":9,"labelFontWeight":"bold","labelColor":"black","labelPadding":4,"labelLimit":400,"domainWidth":2}},
   "x":{"field":"v","type":"quantitative","scale":{"domain":[0,12],"range":[171,348.5],"nice":false,"zero":false},
     "axis":{"orient":"bottom","offset":-27.7,"values":[0,4,8,12],"title":"-log(P)","titlePadding":1,"tickSize":4,"labelFontSize":10,"labelColor":"black","domainWidth":2,"labelPadding":1}}}},
 {"layer":[
  {"data":{"values":[{"t":"F","x":-10.81,"y":-2.59}]},"mark":{"type":"text","fontSize":17,"fontWeight":"bold","color":"black"},
   "encoding":{"x":{"field":"x","type":"quantitative","axis":null},"y":{"field":"y","type":"quantitative","scale":{"domain":[0,10],"range":[810,917.8],"nice":false,"zero":false},"axis":null},"text":{"field":"t"}}},
  {"data":{"values":[{"t":"Downregulated (36 genes)","x":0.05,"y":-1.08}]},"mark":{"type":"text","fontSize":11.5,"color":"#333"},
   "encoding":{"x":{"field":"x","type":"quantitative","axis":null},"y":{"field":"y","type":"quantitative","axis":null},"text":{"field":"t"}}},
  {"data":{"values":[{"x":0.0,"x2":12.0,"y":9.99}]},"mark":{"type":"rule","color":"black","strokeWidth":1.8},
   "encoding":{"x":{"field":"x","type":"quantitative","axis":null},"x2":{"field":"x2"},"y":{"field":"y","type":"quantitative","axis":null}}}
 ]}
],"resolve":{"scale":{"y":"independent"},"axis":{"x":"independent","y":"independent"}}},
{"layer":[
 {"data":{"name":"fR"},"mark":{"type":"bar","fill":"#c2452d","stroke":"#222","strokeWidth":1.2},
  "encoding":{"y":{"field":"t","type":"nominal","sort":null,"scale":{"range":[811,918.1],"paddingInner":0.2,"paddingOuter":0.1},
     "axis":{"orient":"left","offset":-510.7,"title":null,"ticks":false,"labelFontSize":9,"labelFontWeight":"bold","labelColor":"black","labelPadding":4,"labelLimit":400,"domainWidth":2}},
   "x":{"field":"v","type":"quantitative","scale":{"domain":[0,12],"range":[510.7,690.7],"nice":false,"zero":false},
     "axis":{"orient":"bottom","offset":-27.7,"values":[0,4,8,12],"title":"-log(P)","titlePadding":1,"tickSize":4,"labelFontSize":10,"labelColor":"black","domainWidth":2,"labelPadding":1}}}},
 {"layer":[
  {"data":{"values":[{"t":"Downregulated (152 genes)","x":-0.07,"y":-1.34}]},"mark":{"type":"text","fontSize":11.5,"color":"#333"},
   "encoding":{"x":{"field":"x","type":"quantitative","axis":null},"y":{"field":"y","type":"quantitative","scale":{"domain":[0,10],"range":[811,918.1],"nice":false,"zero":false},"axis":null},"text":{"field":"t"}}},
  {"data":{"values":[{"x":0.0,"x2":12.0,"y":9.99}]},"mark":{"type":"rule","color":"black","strokeWidth":1.8},
   "encoding":{"x":{"field":"x","type":"quantitative","axis":null},"x2":{"field":"x2"},"y":{"field":"y","type":"quantitative","axis":null}}}
 ]}
],"resolve":{"scale":{"y":"independent"},"axis":{"x":"independent","y":"independent"}}}
],
"resolve":{"scale":{"x":"independent","y":"independent","color":"independent","fill":"independent","size":"independent"},"axis":{"x":"independent","y":"independent"},"legend":{"color":"independent","fill":"independent","size":"independent"}}
}
